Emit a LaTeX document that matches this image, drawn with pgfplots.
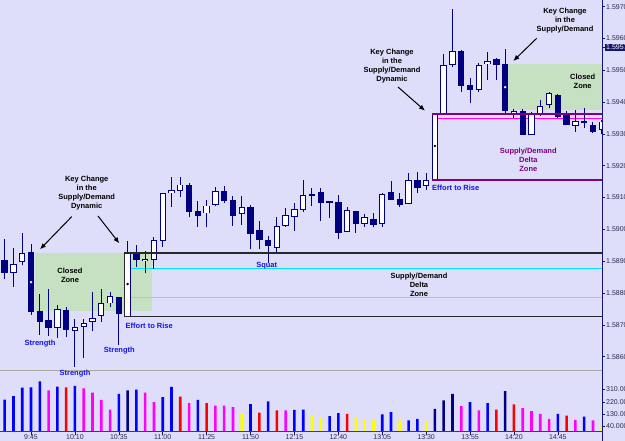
\documentclass[border=0pt]{standalone}
\usepackage{pgfplots}
\pgfplotsset{compat=1.18}
\usepackage{pgfplotstable}
\usetikzlibrary{arrows.meta}
\usepackage{fontspec}
\setmainfont{Liberation Sans}

\definecolor{chartbg}{RGB}{222,222,250}
\definecolor{candle}{RGB}{0,0,128}
\definecolor{zonegreen}{RGB}{198,224,194}
\definecolor{axisnavy}{RGB}{20,20,120}
\definecolor{ticktext}{RGB}{40,40,80}
\definecolor{sepgray}{RGB}{170,170,160}
\definecolor{boxline}{RGB}{40,40,40}
\definecolor{deltacyan}{RGB}{0,230,255}
\definecolor{deltapurple}{RGB}{128,0,128}
\definecolor{deltamagenta}{RGB}{255,0,255}
\definecolor{labelblue}{RGB}{20,20,230}
\definecolor{volblue}{RGB}{0,0,255}
\definecolor{volnavy}{RGB}{0,0,128}
\definecolor{volred}{RGB}{255,0,0}
\definecolor{volmagenta}{RGB}{255,0,255}
\definecolor{volyellow}{RGB}{255,255,0}

% 5-minute bars, index 0 = 9:30
\pgfplotstableread{
x  o       h       l       c
0  1.58902 1.58970 1.58844 1.58864
3  1.58928 1.58954 1.58731 1.58742
4  1.58741 1.58797 1.58668 1.58710
5  1.58713 1.58812 1.58665 1.58691
7  1.58747 1.58755 1.58661 1.58684
13 1.58787 1.58789 1.58637 1.58736
15 1.58925 1.58951 1.58883 1.58906
21 1.59140 1.59145 1.59038 1.59056
22 1.59058 1.59090 1.59009 1.59044
25 1.59119 1.59137 1.59084 1.59090
26 1.59090 1.59105 1.59011 1.59042
28 1.59068 1.59077 1.58938 1.58986
29 1.58998 1.59027 1.58938 1.58967
30 1.58967 1.58979 1.58894 1.58949
36 1.59115 1.59129 1.59027 1.59084
37 1.59088 1.59088 1.59035 1.59084
38 1.59084 1.59108 1.58969 1.58990
40 1.59058 1.59058 1.58990 1.59017
42 1.59032 1.59053 1.59007 1.59014
44 1.59115 1.59152 1.59093 1.59093
45 1.59096 1.59115 1.59070 1.59079
47 1.59155 1.59181 1.59115 1.59132
52 1.59561 1.59564 1.59433 1.59451
53 1.59454 1.59475 1.59396 1.59438
56 1.59533 1.59538 1.59470 1.59517
57 1.59520 1.59566 1.59360 1.59373
59 1.59370 1.59378 1.59297 1.59297
63 1.59420 1.59425 1.59349 1.59354
64 1.59357 1.59372 1.59328 1.59328
66 1.59340 1.59381 1.59318 1.59335
67 1.59328 1.59339 1.59302 1.59307
}\bear

\pgfplotstableread{
x  o       h       l       c
1  1.58864 1.58942 1.58820 1.58891
2  1.58898 1.58990 1.58888 1.58925
6  1.58692 1.58763 1.58658 1.58749
8  1.58681 1.58718 1.58568 1.58692
9  1.58694 1.58718 1.58595 1.58705
10 1.58709 1.58804 1.58679 1.58721
11 1.58728 1.58812 1.58710 1.58766
12 1.58768 1.58804 1.58757 1.58789
14 1.58726 1.58962 1.58726 1.58925
16 1.58901 1.58932 1.58862 1.58906
17 1.58906 1.58977 1.58876 1.58965
18 1.58964 1.59115 1.58946 1.59114
19 1.59115 1.59164 1.59070 1.59122
20 1.59122 1.59166 1.59103 1.59140
23 1.59051 1.59093 1.59006 1.59074
24 1.59079 1.59132 1.59072 1.59121
27 1.59048 1.59105 1.59014 1.59068
31 1.58944 1.59038 1.58930 1.59011
32 1.59011 1.59066 1.59009 1.59045
33 1.59040 1.59084 1.58996 1.59063
34 1.59063 1.59154 1.59056 1.59108
35 1.59107 1.59129 1.59072 1.59111
39 1.58993 1.59070 1.58993 1.59061
41 1.59019 1.59048 1.59007 1.59037
43 1.59019 1.59115 1.59009 1.59111
46 1.59082 1.59178 1.59080 1.59155
48 1.59137 1.59176 1.59124 1.59153
49 1.59155 1.59363 1.59155 1.59363
50 1.59363 1.59551 1.59360 1.59517
51 1.59517 1.59692 1.59511 1.59561
54 1.59438 1.59522 1.59433 1.59517
55 1.59520 1.59559 1.59470 1.59527
58 1.59365 1.59378 1.59349 1.59372
60 1.59297 1.59370 1.59297 1.59362
61 1.59360 1.59407 1.59357 1.59388
62 1.59391 1.59433 1.59381 1.59428
65 1.59325 1.59375 1.59307 1.59339
68 1.59313 1.59344 1.59300 1.59338
}\bull

\pgfplotsset{
  nomarks/.style={only marks, mark=*, mark size=0pt,
    mark options={draw=none, fill=none}, forget plot},
  wick/.style={nomarks,
    error bars/.cd, y dir=plus, y explicit, error mark=none,
    error bar style={draw=candle, line width=1pt}},
  body/.style 2 args={nomarks,
    error bars/.cd, y dir=both, y explicit, error mark=none,
    error bar style={draw=#1, line width=#2, line cap=butt}},
}

\begin{document}
\begin{tikzpicture}[x=1pt,y=1pt]
\useasboundingbox (0,0) rectangle (625,441);
\clip (0,0) rectangle (625,441);
\fill[chartbg] (0,0) rectangle (625,441);

% ---------------- price panel ----------------
\begin{axis}[
  at={(0pt,71pt)}, anchor=south west, scale only axis,
  width=602pt, height=370pt,
  xmin=-0.535, xmax=68.03, ymin=1.58558, ymax=1.59721,
  axis line style={draw=none},
  xtick=\empty,
  ytick={1.586,1.587,1.588,1.589,1.590,1.591,1.592,1.593,1.594,1.595,1.596,1.597},
  scaled y ticks=false,
  ytick pos=right, yticklabel pos=right,
  tick align=outside, major tick length=3pt,
  tick style={axisnavy, line width=0.6pt},
  yticklabel style={font=\fontsize{7}{8}\selectfont, text=ticktext,
    anchor=west, inner sep=1pt,
    /pgf/number format/fixed, /pgf/number format/fixed zerofill,
    /pgf/number format/precision=5, /pgf/number format/assume math mode=true},
  extra y ticks={1.59573},
  extra y tick style={yticklabel style={fill=axisnavy, text=white, inner sep=1pt}},
]
% closed zones
\fill[zonegreen] (axis cs:3.45,1.58927) rectangle (axis cs:16.74,1.58742);
\fill[zonegreen] (axis cs:57.36,1.59520) rectangle (axis cs:68.03,1.59375);

% supply/demand delta zone lines
\draw[deltacyan, line width=1pt] (axis cs:14.36,1.58878) -- (axis cs:68.03,1.58878);
\draw[deltacyan!70!white, line width=0.8pt] (axis cs:14.36,1.58787) -- (axis cs:68.03,1.58787);
\draw[deltamagenta, line width=1pt] (axis cs:49.36,1.59349) -- (axis cs:68.03,1.59349);

% wicks
\addplot[wick] table[x=x, y=l, y error expr={\thisrow{h}-\thisrow{l}}] {\bear};
\addplot[wick] table[x=x, y=l, y error expr={\thisrow{h}-\thisrow{l}}] {\bull};
% bodies: falling bars filled, rising bars hollow
\addplot[body={candle}{6.4pt}] table[x=x, y expr={0.5*(\thisrow{o}+\thisrow{c})},
  y error expr={0.5*(\thisrow{o}-\thisrow{c})+0.00001}] {\bear};
\addplot[body={candle}{6.4pt}] table[x=x, y expr={0.5*(\thisrow{o}+\thisrow{c})},
  y error expr={0.5*(\thisrow{c}-\thisrow{o})+0.00001}] {\bull};
\addplot[body={white}{4.4pt}] table[x=x, y expr={0.5*(\thisrow{o}+\thisrow{c})},
  y error expr={max(0.5*(\thisrow{c}-\thisrow{o})-0.00002,0)}] {\bull};

% box outlines
\draw[boxline, line width=1.5pt] (axis cs:13.64,1.58925) -- (axis cs:68.03,1.58925);
\draw[boxline, line width=1.5pt] (axis cs:13.64,1.58726) -- (axis cs:68.03,1.58726);
\draw[boxline, line width=1pt] (axis cs:13.64,1.58925) -- (axis cs:13.64,1.58726);
\draw[deltapurple, line width=1.3pt] (axis cs:48.64,1.59363) -- (axis cs:68.03,1.59363);
\draw[deltapurple, line width=1.3pt] (axis cs:48.64,1.59155) -- (axis cs:68.03,1.59155);

% signal dots
\addplot[only marks, mark=*, mark size=1pt, black] coordinates {(14,1.58828) (49,1.59262)};
\addplot[only marks, mark=*, mark size=1pt, white, mark options={draw=white}] coordinates {(3,1.58834) (57,1.59447)};
\end{axis}

% ---------------- volume panel ----------------
\begin{axis}[
  at={(0pt,9pt)}, anchor=south west, scale only axis,
  width=602pt, height=60pt,
  xmin=-0.535, xmax=68.03, ymin=0, ymax=438,
  axis line style={draw=none},
  xtick={3,8,13,18,23,28,33,38,43,48,53,58,63},
  xticklabels={9:45,10:10,10:35,11:00,11:25,11:50,12:15,12:40,13:05,13:30,13:55,14:20,14:45},
  xtick pos=bottom,
  ytick={40,130,220,310},
  ytick pos=right, yticklabel pos=right,
  tick align=outside, major tick length=3pt,
  tick style={axisnavy, line width=0.6pt},
  xticklabel style={font=\fontsize{7}{8}\selectfont, text=ticktext,
    anchor=north, inner sep=0pt, yshift=0.5pt},
  yticklabel style={font=\fontsize{7}{8}\selectfont, text=ticktext,
    anchor=west, inner sep=1pt,
    /pgf/number format/fixed, /pgf/number format/fixed zerofill,
    /pgf/number format/precision=4, /pgf/number format/assume math mode=true},
  every axis plot/.append style={ybar, bar width=2.6pt, bar shift=0pt, draw=none},
]
\addplot[fill=volblue] coordinates {(0,237) (1,261) (2,323) (3,325) (4,369) (6,332) (8,337) (13,279) (15,310) (18,254) (19,330) (22,235) (28,203) (30,223) (33,162) (34,164) (37,115) (38,137) (43,128) (44,145) (46,84) (47,96) (53,218) (55,210) (63,133) (66,113)};
\addplot[fill=volnavy] coordinates {(14,303) (49,169) (50,230) (51,279) (57,298)};
\addplot[fill=volred] coordinates {(7,325) (20,259) (23,210) (29,142) (31,157) (39,133) (56,164) (58,201) (64,120)};
\addplot[fill=volmagenta] coordinates {(5,303) (9,318) (10,288) (11,235) (12,164) (16,288) (17,218) (21,210) (24,193) (25,193) (26,181) (32,157) (52,188) (54,157) (59,174) (60,152) (61,133) (62,96) (65,89) (67,84)};
\addplot[fill=volyellow] coordinates {(27,137) (35,120) (36,108) (40,101) (41,89) (42,84) (45,84) (48,72) (68,40)};
\end{axis}

% panel frame lines
\draw[sepgray, line width=1.3pt] (0,70.5) -- (602,70.5);
\draw[black!75, line width=1pt] (0,9) -- (602,9);
\draw[axisnavy, line width=1pt] (602,0) -- (602,441);

% annotations
\begin{scope}[font=\fontsize{7.5}{9}\selectfont\bfseries]
\node[align=center, black] at (86.7,248.3) {Key Change\\in the\\Supply/Demand\\Dynamic};
\node[align=center, black] at (392,374.5) {Key Change\\in the\\Supply/Demand\\Dynamic};
\node[align=center, black] at (565,420.9) {Key Change\\in the\\Supply/Demand};
\node[align=center, black] at (70,165.5) {Closed\\Zone};
\node[align=center, black] at (582.7,359.7) {Closed\\Zone};
\node[align=center, black] at (419,156) {Supply/Demand\\Delta\\Zone};
\node[align=center, deltapurple] at (528.3,281.6) {Supply/Demand\\Delta\\Zone};
\node[anchor=west, labelblue, inner sep=0pt] at (125.5,115) {Effort to Rise};
\node[anchor=west, labelblue, inner sep=0pt] at (432,252.7) {Effort to Rise};
\node[labelblue] at (40,97.7) {Strength};
\node[labelblue] at (75,67.7) {Strength};
\node[labelblue] at (119.3,90.3) {Strength};
\node[labelblue] at (266.7,175.3) {Squat};
\end{scope}
\begin{scope}[line width=1pt, -{Latex[length=6pt,width=5pt]}]
\draw (71.7,224.3) -- (40,191.7);
\draw (98,225) -- (119.3,197.7);
\draw (398,354) -- (425,330.3);
\draw (536.7,402.7) -- (513.3,380);
\end{scope}
\end{tikzpicture}
\end{document}
